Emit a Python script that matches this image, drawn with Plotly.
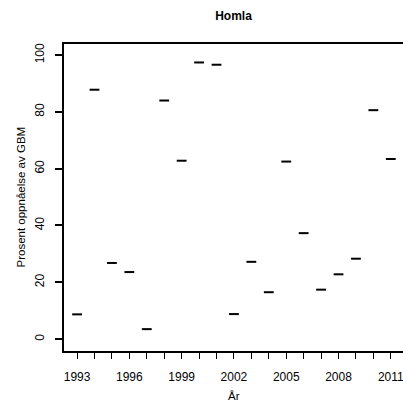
import plotly.graph_objects as go

# data
years = list(range(1993, 2012))
prosent = [8.7, 87.8, 26.8, 23.6, 3.5, 84.0, 62.8, 97.4, 96.6, 8.8,
           27.2, 16.5, 62.5, 37.3, 17.4, 22.8, 28.3, 80.6, 63.4]
x_ticks = list(range(1993, 2012))
x_labels = [str(y) if (y - 1993) % 3 == 0 else "" for y in x_ticks]
y_ticks = [0, 20, 40, 60, 80, 100]

font = "Liberation Sans, Arial, sans-serif"

fig = go.Figure()
fig.add_trace(go.Scatter(
    x=years, y=prosent, mode="markers",
    marker=dict(symbol="line-ew", size=7, line=dict(color="black", width=2)),
    showlegend=False, hoverinfo="x+y", cliponaxis=False,
))

fig.update_layout(
    width=403, height=415,
    margin=dict(l=64, r=0, t=44, b=64, autoexpand=False),
    plot_bgcolor="white", paper_bgcolor="white",
    font=dict(family=font, size=12, color="black"),
    title=dict(text="<b>Homla</b>", x=0.5, xref="paper", xanchor="center",
               y=1 - 16 / 415, yanchor="middle", font=dict(size=12)),
)

fig.update_xaxes(
    range=[1992.25, 2011.7], tickvals=x_ticks, ticktext=x_labels,
    ticks="outside", ticklen=6, tickwidth=1, tickcolor="black",
    showline=True, linecolor="black", linewidth=2, mirror=True,
    showgrid=False, zeroline=False, ticklabelstandoff=8,
    ticklabeloverflow="allow",
    tickfont=dict(size=12), automargin=False,
)
fig.update_yaxes(
    range=[-4.2, 103.9], tickvals=y_ticks, tickangle=-90,
    ticks="outside", ticklen=7, tickwidth=1.5, tickcolor="black",
    showline=True, linecolor="black", linewidth=2,
    showgrid=False, zeroline=False, ticklabelstandoff=6,
    tickfont=dict(size=12), automargin=False,
)

# axis titles placed like the R defaults
fig.add_annotation(text="Prosent oppnåelse av GBM", xref="paper", yref="paper",
                   x=0, y=0.5, xshift=-52, textangle=-90, showarrow=False,
                   font=dict(size=11.5))
fig.add_annotation(text="År", xref="paper", yref="paper",
                   x=0.5, y=0, yshift=-53, showarrow=False,
                   font=dict(size=11.5))

# drop the browser's default page margin so the figure sits at 0,0
fig.write_html("out.html", config={"displayModeBar": False},
               post_script="document.body.style.margin='0';document.body.style.overflow='hidden';")
